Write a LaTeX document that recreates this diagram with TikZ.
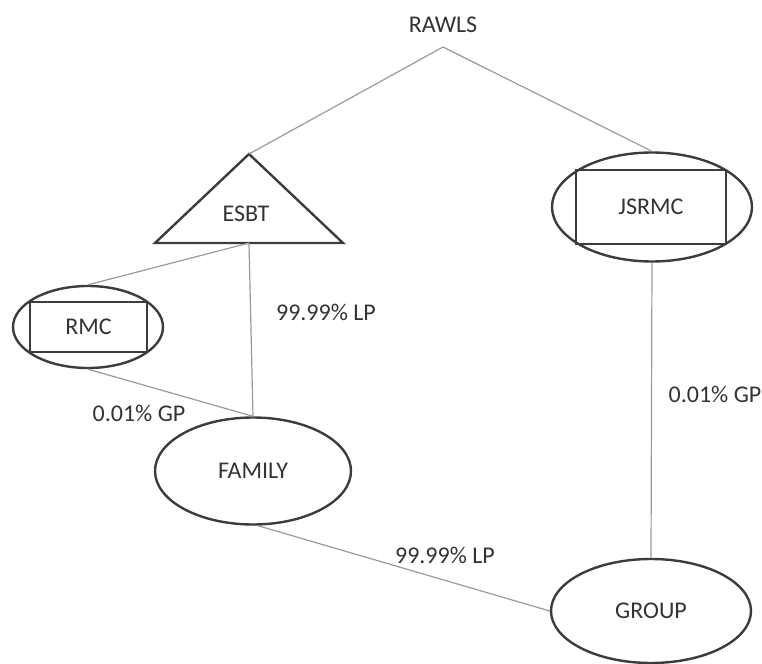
\documentclass[tikz,border=0pt]{standalone}
\usepackage{fontspec}
\setmainfont{Carlito}
\usetikzlibrary{shapes.geometric}
\definecolor{inkgray}{HTML}{333333}
\definecolor{edgegray}{HTML}{3C3C3C}
\definecolor{linkgray}{HTML}{9A9A9A}
\begin{document}
\begin{tikzpicture}[x=0.5pt,y=-0.5pt,
    every node/.style={font=\fontsize{12}{14}\selectfont,text=inkgray},
    ring/.style={draw=edgegray,line width=1.2pt,ellipse,inner sep=0pt},
    boxed/.style={draw=edgegray,line width=1.2pt,rectangle,inner sep=0pt},
    link/.style={draw=linkgray,line width=0.6pt}]
    \useasboundingbox (0,0) rectangle (762,664);

    % Top label
    \node (rawls) at (443,25) {RAWLS};
    \coordinate (rawlsfoot) at (443,47);

    % Triangle for the ESBT
    \coordinate (esbtA) at (249,154);
    \coordinate (esbtL) at (155,243);
    \coordinate (esbtR) at (343,243);
    \coordinate (esbtB) at (249,243);
    \draw[edgegray,line width=1.2pt,line join=miter] (esbtA) -- (esbtL) -- (esbtR) -- cycle;
    \node (esbt) at (246,214) {ESBT};

    % Boxed ellipses
    \node[ring,minimum width=75pt,minimum height=41pt] (rmcring) at (88,327) {};
    \node[boxed,minimum width=58.5pt,minimum height=25pt] (rmc) at (88.5,327) {RMC};
    \node[ring,minimum width=100pt,minimum height=54.5pt] (jsrmcring) at (652,207) {};
    \node[boxed,minimum width=75pt,minimum height=37pt] (jsrmc) at (651,207) {JSRMC};

    % Plain ellipses
    \node[ring,minimum width=98pt,minimum height=53.5pt] (family) at (253,471) {FAMILY};
    \node[ring,minimum width=100pt,minimum height=52pt] (group) at (651,611) {GROUP};

    % Connectors
    \draw[link] (rawlsfoot) -- (esbtA);
    \draw[link] (rawlsfoot) -- (jsrmcring.north);
    \draw[link] (esbtB) -- (rmcring.north);
    \draw[link] (esbtB) -- (family.north);
    \draw[link] (rmcring.south) -- (family.north);
    \draw[link] (jsrmcring.south) -- (group.north);
    \draw[link] (family.-85) -- (group.west);

    % Shares
    \node (lpesbt) at (326,312) {99.99\% LP};
    \node (gprmc) at (139,413) {0.01\% GP};
    \node (gpjsrmc) at (715,394) {0.01\% GP};
    \node (lpfamily) at (445,555) {99.99\% LP};
\end{tikzpicture}
\end{document}
